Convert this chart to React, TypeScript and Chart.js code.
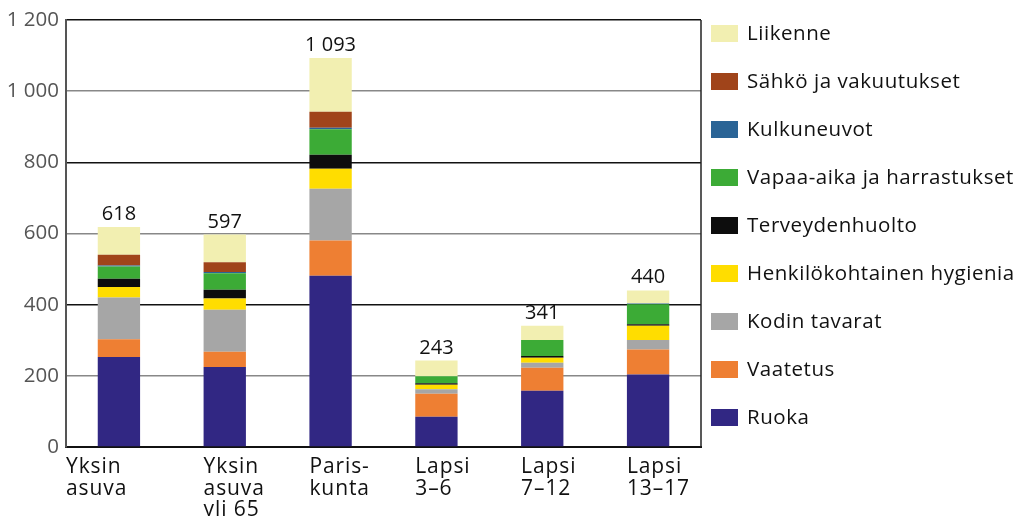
import React, { useEffect, useRef } from "react";
import { Chart, registerables } from "chart.js";

Chart.register(...registerables);

const categories: string[][] = [
  ["Yksin", "asuva"],
  ["Yksin", "asuva", "yli 65"],
  ["Paris-", "kunta"],
  ["Lapsi", "3–6"],
  ["Lapsi", "7–12"],
  ["Lapsi", "13–17"],
];
const totals = [618, 597, 1093, 243, 341, 440];
const ruoka = [253, 225, 481, 85, 158, 204];
const vaatetus = [50, 43, 99, 65, 65, 70];
const kodinTavarat = [117, 118, 146, 12, 14, 27];
const hygienia = [30, 31, 56, 13, 14, 40];
const terveydenhuolto = [23, 25, 39, 4, 5, 4];
const vapaaAika = [34, 46, 72, 20, 45, 56];
const kulkuneuvot = [3, 4, 4, 0, 0, 2];
const sahko = [30, 27, 45, 0, 0, 0];
const liikenne = [78, 78, 151, 44, 40, 37];

const seriesNames = [
  "Ruoka",
  "Vaatetus",
  "Kodin tavarat",
  "Henkilökohtainen hygienia",
  "Terveydenhuolto",
  "Vapaa-aika ja harrastukset",
  "Kulkuneuvot",
  "Sähkö ja vakuutukset",
  "Liikenne",
];
const seriesValues = [ruoka, vaatetus, kodinTavarat, hygienia, terveydenhuolto, vapaaAika, kulkuneuvot, sahko, liikenne];
const seriesColors = [
  "#312783",
  "#ee7f33",
  "#a6a6a6",
  "#ffdd00",
  "#0d0d0d",
  "#3cab36",
  "#2a6496",
  "#a0441a",
  "#f2efb1",
];

const yMax = 1200;
const yStep = 200;
const FONT = "'Open Sans', 'Noto Sans', sans-serif";

function fmt(v: number): string {
  if (v >= 1000) return `${Math.floor(v / 1000)} ${String(v % 1000).padStart(3, "0")}`;
  return String(v);
}

const decorPlugin = {
  id: "decor",
  afterDraw(chart: any) {
    const { ctx, chartArea, scales } = chart;
    const y = scales.y;
    const meta0 = chart.getDatasetMeta(0);
    ctx.save();
    // right border
    ctx.strokeStyle = "#222";
    ctx.lineWidth = 1.5;
    ctx.beginPath();
    ctx.moveTo(chartArea.right, chartArea.top);
    ctx.lineTo(chartArea.right, chartArea.bottom);
    ctx.stroke();

    // totals
    ctx.fillStyle = "#111";
    ctx.font = `20px ${FONT}`;
    ctx.textAlign = "center";
    ctx.textBaseline = "alphabetic";
    (ctx as any).letterSpacing = "0px";
    totals.forEach((t, i) => {
      const el = meta0.data[i];
      ctx.fillText(fmt(t), el.x, y.getPixelForValue(t) - 7);
    });

    // x labels
    ctx.font = `21px ${FONT}`;
    (ctx as any).letterSpacing = "0.9px";
    ctx.textAlign = "left";
    categories.forEach((lines, i) => {
      const el = meta0.data[i];
      const left = i === 0 ? chartArea.left : el.x - el.width / 2;
      lines.forEach((ln, j) => {
        ctx.fillText(ln, left, chartArea.bottom + 26 + j * 21.5);
      });
    });

    // legend
    ctx.font = `20.5px ${FONT}`;
    (ctx as any).letterSpacing = "0.55px";
    ctx.textBaseline = "middle";
    const n = seriesNames.length;
    for (let k = 0; k < n; k++) {
      const idx = n - 1 - k;
      const cy = 33.5 + k * 48;
      ctx.fillStyle = seriesColors[idx];
      ctx.fillRect(chartArea.right + 10, cy - 8.5, 27, 17);
      ctx.fillStyle = "#111";
      ctx.fillText(seriesNames[idx], chartArea.right + 46, cy + 1);
    }
    ctx.restore();
  },
};

export default function App() {
  const ref = useRef<HTMLCanvasElement | null>(null);
  useEffect(() => {
    if (!ref.current) return;
    const chart = new Chart(ref.current, {
      type: "bar",
      data: {
        labels: categories.map((c) => c.join(" ")),
        datasets: seriesNames.map((name, i) => ({
          label: name,
          data: seriesValues[i],
          backgroundColor: seriesColors[i],
          borderWidth: 0,
          barPercentage: 0.4,
          categoryPercentage: 1,
        })),
      },
      options: {
        responsive: false,
        animation: false,
        layout: { padding: { top: 20, right: 320, left: 0, bottom: 0 } },
        plugins: { legend: { display: false }, tooltip: { enabled: false } },
        scales: {
          x: {
            stacked: true,
            ticks: { display: false },
            grid: { display: false },
            border: { color: "#111", width: 2 },
            afterFit: (s: any) => {
              s.height = 69;
            },
          },
          y: {
            stacked: true,
            min: 0,
            max: yMax,
            ticks: {
              stepSize: yStep,
              color: "#555",
              font: { family: FONT, size: 20.5 },
              padding: 7,
              callback: (v: any) => fmt(Number(v)),
            },
            grid: {
              drawTicks: false,
              color: (c: any) => (c.tick && c.tick.value % 400 === 0 ? "#111" : "#888"),
              lineWidth: 1.5,
            },
            border: { color: "#555", width: 2 },
            afterFit: (s: any) => {
              s.width = 66;
            },
          },
        },
      },
      plugins: [decorPlugin],
    });
    return () => chart.destroy();
  }, []);
  return (
    <div style={{ position: "absolute", left: 0, top: 0, width: 1021, height: 516, background: "#fff" }}>
      <canvas ref={ref} width={1021} height={516} style={{ display: "block" }} />
    </div>
  );
}
